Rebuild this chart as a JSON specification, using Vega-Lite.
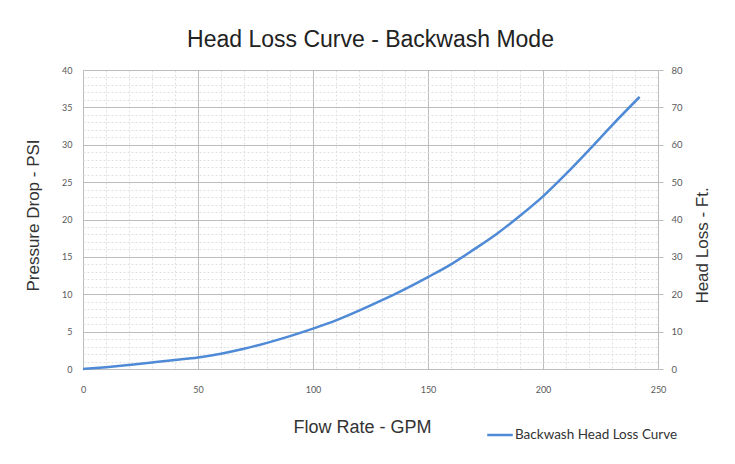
{
  "$schema": "https://vega.github.io/schema/vega-lite/v6.json",
  "autosize": {"type": "none"},
  "padding": {"left": 83, "top": 70, "right": 77, "bottom": 95},
  "width": 575,
  "height": 299,
  "background": "white",
  "config": {"view": {"stroke": "#bfbfbf", "strokeWidth": 1}, "axis": {"labelOverlap": false}},
  "title": {"text": "Head Loss Curve - Backwash Mode", "font": "Liberation Sans", "fontSize": 23, "fontWeight": "normal", "color": "#222222", "offset": 13, "anchor": "middle"},
  "data": {"values": [
    {"gpm": 0, "psi": 0, "series": "Backwash Head Loss Curve"},
    {"gpm": 10, "psi": 0.25, "series": "Backwash Head Loss Curve"},
    {"gpm": 20, "psi": 0.55, "series": "Backwash Head Loss Curve"},
    {"gpm": 30, "psi": 0.87, "series": "Backwash Head Loss Curve"},
    {"gpm": 40, "psi": 1.2, "series": "Backwash Head Loss Curve"},
    {"gpm": 50, "psi": 1.55, "series": "Backwash Head Loss Curve"},
    {"gpm": 60, "psi": 2.05, "series": "Backwash Head Loss Curve"},
    {"gpm": 70, "psi": 2.7, "series": "Backwash Head Loss Curve"},
    {"gpm": 80, "psi": 3.5, "series": "Backwash Head Loss Curve"},
    {"gpm": 90, "psi": 4.4, "series": "Backwash Head Loss Curve"},
    {"gpm": 100, "psi": 5.4, "series": "Backwash Head Loss Curve"},
    {"gpm": 110, "psi": 6.5, "series": "Backwash Head Loss Curve"},
    {"gpm": 120, "psi": 7.8, "series": "Backwash Head Loss Curve"},
    {"gpm": 130, "psi": 9.2, "series": "Backwash Head Loss Curve"},
    {"gpm": 140, "psi": 10.7, "series": "Backwash Head Loss Curve"},
    {"gpm": 150, "psi": 12.3, "series": "Backwash Head Loss Curve"},
    {"gpm": 160, "psi": 14.0, "series": "Backwash Head Loss Curve"},
    {"gpm": 170, "psi": 16.0, "series": "Backwash Head Loss Curve"},
    {"gpm": 180, "psi": 18.1, "series": "Backwash Head Loss Curve"},
    {"gpm": 190, "psi": 20.5, "series": "Backwash Head Loss Curve"},
    {"gpm": 200, "psi": 23.1, "series": "Backwash Head Loss Curve"},
    {"gpm": 210, "psi": 26.1, "series": "Backwash Head Loss Curve"},
    {"gpm": 220, "psi": 29.3, "series": "Backwash Head Loss Curve"},
    {"gpm": 230, "psi": 32.6, "series": "Backwash Head Loss Curve"},
    {"gpm": 242, "psi": 36.4, "series": "Backwash Head Loss Curve"}
  ]},
  "layer": [
    {
      "mark": {"type": "line", "strokeWidth": 2.5, "interpolate": "monotone"},
      "encoding": {
        "x": {
          "field": "gpm", "type": "quantitative",
          "scale": {"domain": [0, 250], "nice": false},
          "axis": {
            "values": [0,10,20,30,40,50,60,70,80,90,100,110,120,130,140,150,160,170,180,190,200,210,220,230,240,250],
            "labelExpr": "datum.value % 50 === 0 ? datum.label : ''",
            "labelOverlap": false, "labelFlush": false,
            "labelFont": "Lato", "labelFontSize": 9, "labelColor": "#595959", "labelPadding": 16,
            "ticks": false, "domain": false,
            "grid": true,
            "gridColor": {"condition": {"test": "datum.value % 50 === 0", "value": "#bdbdbd"}, "value": "#e0e0e0"},
            "gridDash": {"condition": {"test": "datum.value % 50 === 0", "value": []}, "value": [2, 2]},
            "title": "Flow Rate - GPM",
            "titleFont": "Liberation Sans", "titleFontSize": 18, "titleFontWeight": "normal", "titleColor": "#333333",
            "titleX": 279, "titleY": 58, "titleBaseline": "middle", "titleAlign": "center"
          }
        },
        "y": {
          "field": "psi", "type": "quantitative",
          "scale": {"domain": [0, 40], "nice": false},
          "axis": {
            "values": [0,1,2,3,4,5,6,7,8,9,10,11,12,13,14,15,16,17,18,19,20,21,22,23,24,25,26,27,28,29,30,31,32,33,34,35,36,37,38,39,40],
            "labelExpr": "datum.value % 5 === 0 ? datum.label : ''",
            "labelOverlap": false,
            "labelFont": "Lato", "labelFontSize": 9, "labelColor": "#595959", "labelPadding": 11,
            "ticks": false, "domain": false,
            "grid": true,
            "gridColor": {"condition": {"test": "datum.value % 5 === 0", "value": "#bdbdbd"}, "value": "#e0e0e0"},
            "gridDash": {"condition": {"test": "datum.value % 5 === 0", "value": []}, "value": [2, 2]},
            "title": "Pressure Drop - PSI",
            "titleFont": "Liberation Sans", "titleFontSize": 17, "titleFontWeight": "normal", "titleColor": "#333333",
            "titleAngle": 270, "titleX": -50, "titleY": 145, "titleBaseline": "middle", "titleAlign": "center"
          }
        },
        "color": {
          "field": "series", "type": "nominal",
          "scale": {"range": ["#4f8ad6"]},
          "legend": {
            "title": null, "orient": "none", "legendX": 403, "legendY": 351,
            "symbolType": "stroke", "symbolSize": 650, "symbolStrokeWidth": 2.5,
            "labelFont": "Lato", "labelFontSize": 13.5, "labelColor": "#333333", "labelOffset": 1, "labelLimit": 400
          }
        }
      }
    },
    {
      "mark": {"type": "line", "opacity": 0},
      "encoding": {
        "x": {
          "field": "gpm", "type": "quantitative",
          "axis": {
            "values": [0,10,20,30,40,50,60,70,80,90,100,110,120,130,140,150,160,170,180,190,200,210,220,230,240,250],
            "labelExpr": "datum.value % 50 === 0 ? datum.label : ''",
            "labelOverlap": false, "labelFlush": false,
            "labelFont": "Lato", "labelFontSize": 9, "labelColor": "#595959", "labelPadding": 16,
            "ticks": false, "domain": false,
            "grid": true,
            "gridColor": {"condition": {"test": "datum.value % 50 === 0", "value": "#bdbdbd"}, "value": "#e0e0e0"},
            "gridDash": {"condition": {"test": "datum.value % 50 === 0", "value": []}, "value": [2, 2]},
            "title": "Flow Rate - GPM",
            "titleFont": "Liberation Sans", "titleFontSize": 18, "titleFontWeight": "normal", "titleColor": "#333333",
            "titleX": 279, "titleY": 58, "titleBaseline": "middle", "titleAlign": "center"
          }
        },
        "y": {
          "field": "psi", "type": "quantitative",
          "scale": {"domain": [0, 40], "nice": false},
          "axis": {
            "orient": "right",
            "values": [0, 5, 10, 15, 20, 25, 30, 35, 40],
            "labelExpr": "format(datum.value * 2, 'd')",
            "labelOverlap": false,
            "labelFont": "Lato", "labelFontSize": 9.5, "labelColor": "#595959", "labelPadding": 8,
            "ticks": true, "tickSize": 5, "tickColor": "#bdbdbd", "domain": false, "grid": false,
            "title": "Head Loss - Ft.",
            "titleFont": "Liberation Sans", "titleFontSize": 17, "titleFontWeight": "normal", "titleColor": "#333333",
            "titleAngle": 270, "titleX": 44, "titleY": 175, "titleBaseline": "middle", "titleAlign": "center"
          }
        }
      }
    }
  ],
  "resolve": {"scale": {"y": "independent"}}
}
